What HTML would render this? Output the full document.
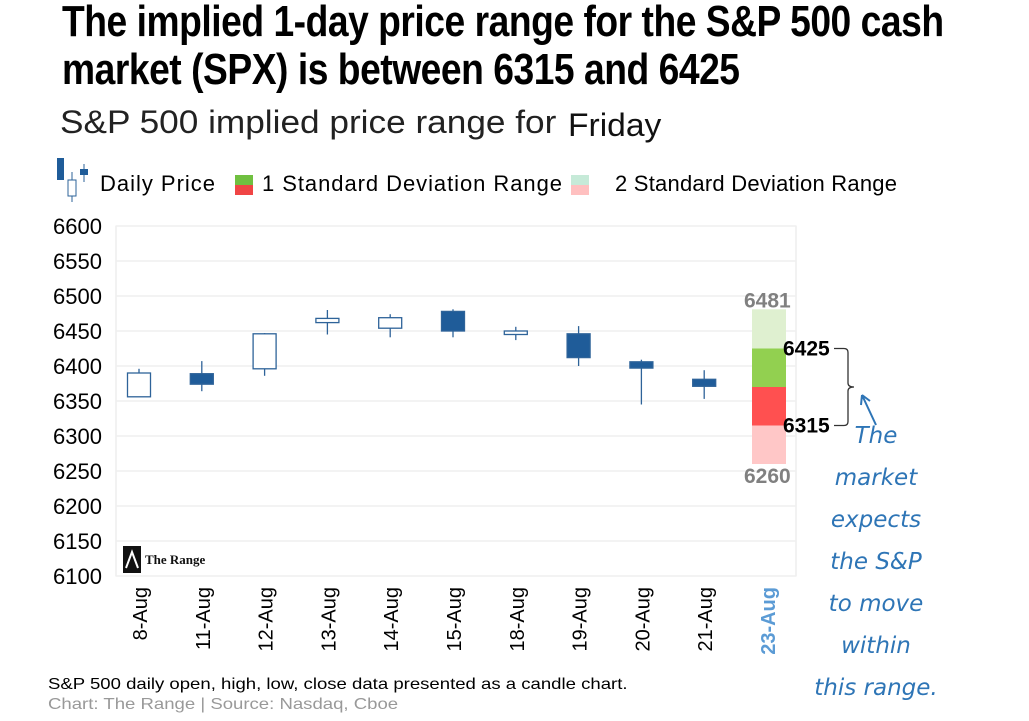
<!DOCTYPE html>
<html><head><meta charset="utf-8"><style>
body{margin:0;width:1029px;height:721px;background:#fff;overflow:hidden;font-family:"Liberation Sans",sans-serif;position:relative}
.abs{position:absolute;white-space:nowrap}
.title{left:62px;font-family:"Liberation Sans Narrow","Liberation Sans",sans-serif;font-weight:bold;font-size:40px;letter-spacing:-0.5px;transform:scale(0.93,1.08);transform-origin:left top;color:#000}
.hand{color:#2e75b6;font-family:"DejaVu Sans",sans-serif;font-style:oblique;font-size:23px;text-align:center;width:140px}
.foot{left:48px;font-size:16px;transform:scaleX(1.16);transform-origin:left top}
</style></head><body>
<div class="abs title" style="top:-2px">The implied 1-day price range for the S&amp;P 500 cash</div>
<div class="abs title" style="top:46px">market (SPX) is between 6315 and 6425</div>
<div class="abs" style="left:60px;top:104px;font-size:32px;color:#222;transform:scaleX(1.1);transform-origin:left top">S&amp;P 500 implied price range for</div>
<div class="abs" style="left:568px;top:107px;font-size:32px;color:#111;transform:scaleX(1.05);transform-origin:left top">Friday</div>
<svg id="chart" width="1029" height="721" style="position:absolute;left:0;top:0"></svg>
<div class="abs foot" style="top:676px;color:#000">S&amp;P 500 daily open, high, low, close data presented as a candle chart.</div>
<div class="abs foot" style="top:696px;color:#999">Chart: The Range | Source: Nasdaq, Cboe</div>
<div class="abs hand" style="left:806px;top:415px;line-height:42px">The<br>market<br>expects<br>the S&amp;P<br>to move<br>within<br>this range.</div>
<script>
const categories=["8-Aug","11-Aug","12-Aug","13-Aug","14-Aug","15-Aug","18-Aug","19-Aug","20-Aug","21-Aug","23-Aug"];
const opens=[6356,6389,6396,6462,6454,6478,6445,6446,6406,6381];
const highs=[6396,6407,6447,6480,6474,6481,6456,6457,6409,6394];
const lows=[6356,6364,6386,6445,6441,6441,6437,6400,6345,6353];
const closes=[6390,6374,6446,6468,6469,6450,6450,6412,6397,6371];
const rangeLevels=[6260,6315,6370,6425,6481];
const yTicks=[6100,6150,6200,6250,6300,6350,6400,6450,6500,6550,6600];
const svg=document.getElementById('chart');const NS='http://www.w3.org/2000/svg';
function y(v){return 576-(v-6100)*0.7;}
function x(i){return 139+i*62.8;}
function mk(t,a,p){const e=document.createElementNS(NS,t);for(const k in a)e.setAttribute(k,a[k]);(p||svg).appendChild(e);return e;}
const frame=mk('rect',{x:116,y:226,width:680,height:350,fill:'none',stroke:'#e6e6e6'});


yTicks.forEach(t=>{
 const g=mk('line',{x1:116,x2:796,y1:y(t),y2:y(t),stroke:'#efefef','stroke-width':1.5});
 
 
 const l=mk('text',{x:102,y:y(t)+8,'text-anchor':'end','font-size':22,fill:'#000'});l.textContent=t;
 
 
});
categories.forEach((c,i)=>{
 const t=mk('text',{transform:`translate(${x(i)+8},587) rotate(-90)`,'text-anchor':'end','font-size':20,fill:i==10?'#5b9bd5':'#000','font-weight':i==10?'bold':'normal'});t.textContent=c;
 
 
});
opens.forEach((o,i)=>{
 const c=closes[i],up=c>=o,cx=x(i);
 const w=mk('line',{x1:cx,x2:cx,y1:y(highs[i]),y2:y(lows[i]),stroke:'#2e6399','stroke-width':1.3});
 
 
 const top=y(Math.max(o,c)),h=Math.max(2,Math.abs(y(o)-y(c)));
 const b=mk('rect',{x:cx-11.5,y:top,width:23,height:h,fill:up?'#fff':'#1f5c99',stroke:'#2e6399','stroke-width':1.3});
 
 
});
const rc=['#ffc7c7','#ff5050','#92d050','#dff0d0'];
for(let k=0;k<4;k++){
 const r=mk('rect',{x:752,y:y(rangeLevels[k+1]),width:34,height:y(rangeLevels[k])-y(rangeLevels[k+1]),fill:rc[k]});
 
 
}
function lab(v,xx,yy,col,name){const t=mk('text',{x:xx,y:yy,'font-size':21,'font-weight':'bold',fill:col});t.textContent=v;
 
 }
lab(rangeLevels[4],744,y(rangeLevels[4])-2,'#808080','label-2sd-high');
lab(rangeLevels[0],744,y(rangeLevels[0])+19,'#808080','label-2sd-low');
lab(rangeLevels[3],783,y(rangeLevels[3])+7,'#000','label-1sd-high');
lab(rangeLevels[1],783,y(rangeLevels[1])+7,'#000','label-1sd-low');
const br=mk('path',{d:`M834 ${y(6425)} h10 q4 0 4 4 V${y(6370)-4} q0 4 6 4 q-6 0 -6 4 V${y(6315)-4} q0 4 -4 4 h-10`,fill:'none',stroke:'#333','stroke-width':1.3});


const ar=mk('path',{d:'M876 425 L862 395 M862 395 l-1 10 M862 395 l8 6',stroke:'#2e75b6','stroke-width':2,fill:'none'});


const lg=mk('g',{});


mk('rect',{x:57,y:158,width:7,height:22,fill:'#1f5c99'},lg);
mk('line',{x1:72,x2:72,y1:172,y2:202,stroke:'#2e6399'},lg);
mk('rect',{x:68,y:180,width:8,height:16,fill:'#fff',stroke:'#2e6399'},lg);
mk('line',{x1:84,x2:84,y1:164,y2:182,stroke:'#2e6399'},lg);
mk('rect',{x:80,y:169,width:8,height:6,fill:'#1f5c99'},lg);
[['Daily Price',100,115],['1 Standard Deviation  Range',262,300],['2 Standard Deviation  Range',615,282]].forEach(([s,xx,len])=>{const t=mk('text',{x:xx,y:191,'font-size':22,fill:'#000',textLength:len,lengthAdjust:'spacing'},lg);t.textContent=s;});
mk('rect',{x:235,y:175,width:18,height:10,fill:'#70c040'},lg);mk('rect',{x:235,y:185,width:18,height:10,fill:'#f04545'},lg);
mk('rect',{x:571,y:175,width:18,height:10,fill:'#c6ead8'},lg);mk('rect',{x:571,y:185,width:18,height:10,fill:'#ffc0c0'},lg);
const lo=mk('g',{});


mk('rect',{x:123,y:546,width:18,height:27,fill:'#111'},lo);
mk('path',{d:'M126 568 L132 552 L138 568',stroke:'#fff','stroke-width':2,fill:'none'},lo);
const lt=mk('text',{x:145,y:564,'font-size':13,'font-weight':'bold','font-family':'Liberation Serif',fill:'#111'},lo);lt.textContent='The Range';
</script>
</body></html>
